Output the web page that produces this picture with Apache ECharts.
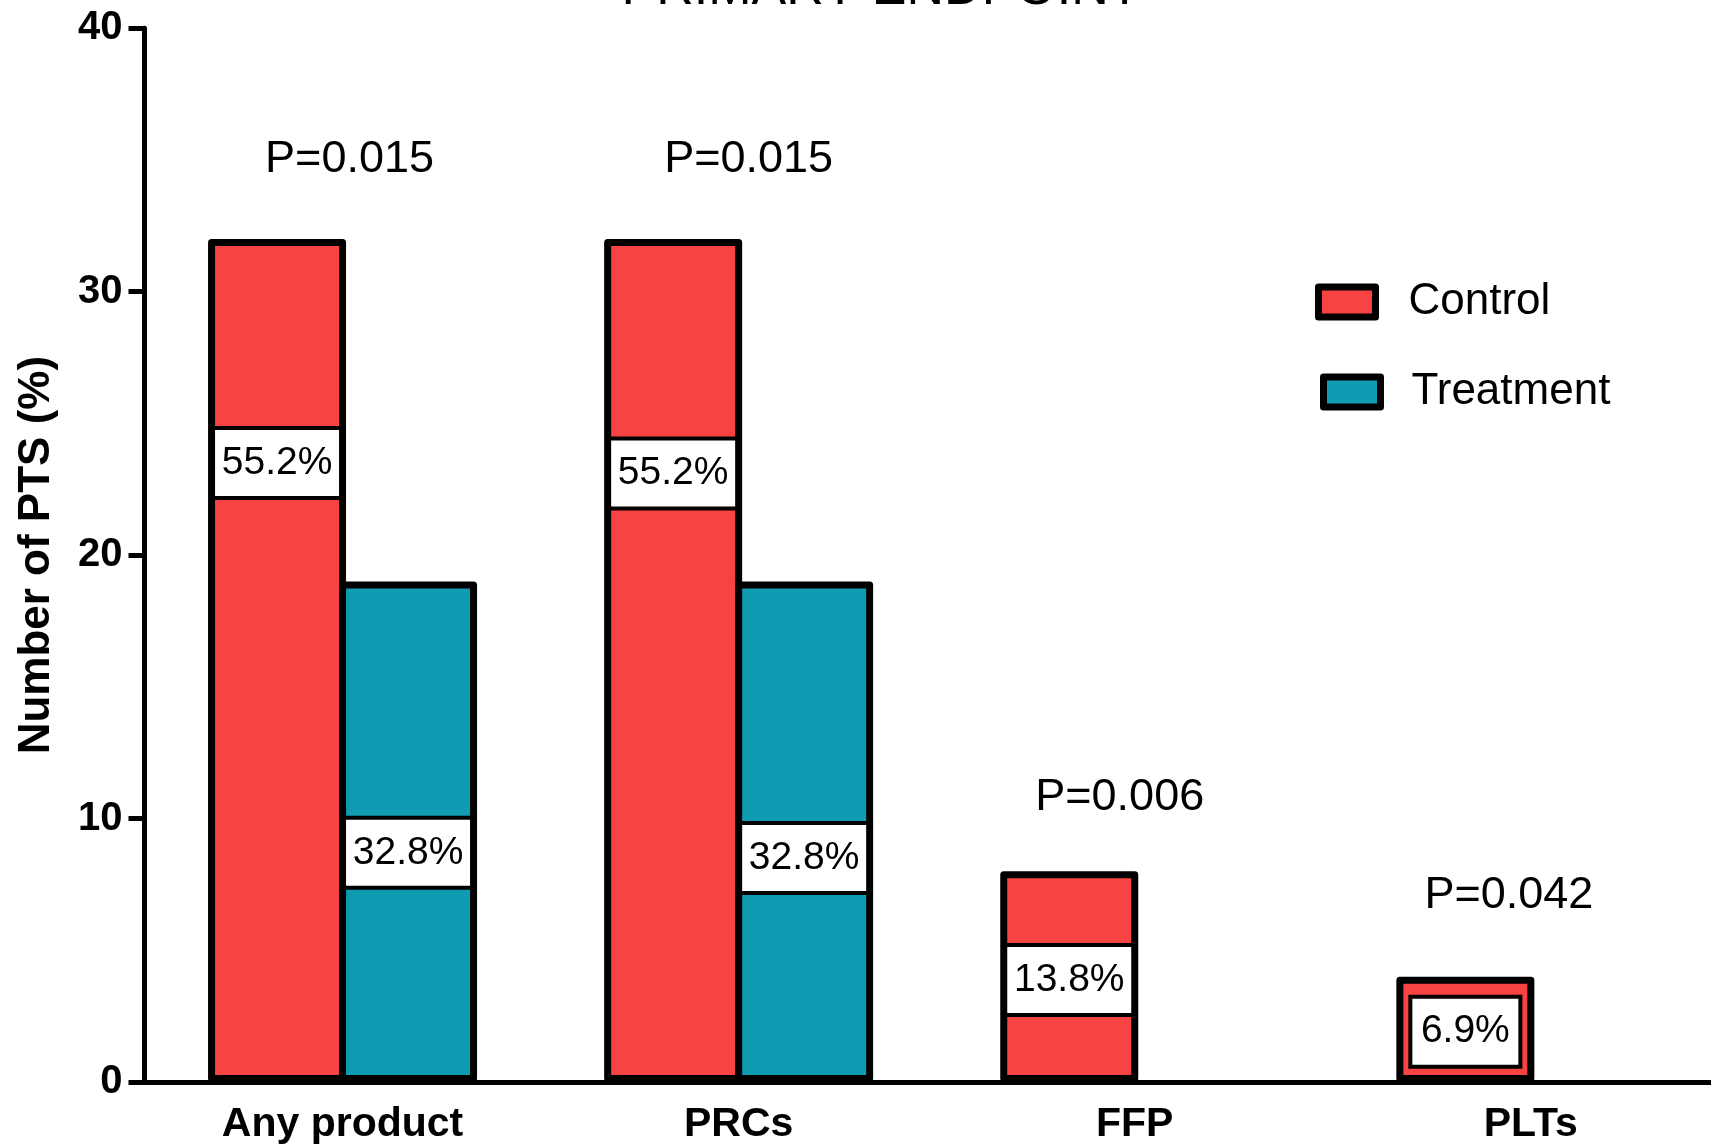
<!DOCTYPE html>
<html>
<head>
<meta charset="utf-8">
<title>Primary endpoint</title>
<script src="https://cdn.jsdelivr.net/npm/echarts@6/dist/echarts.min.js"></script>
<style>
  html, body { margin: 0; padding: 0; background: #fff; }
  #chart { width: 1711px; height: 1148px; }
</style>
</head>
<body>
<div id="chart"></div>
<script>
// Transfused patients per blood product, by arm
const categories = ['Any product', 'PRCs', 'FFP', 'PLTs'];
const controlCounts = [32, 32, 8, 4];
const treatmentCounts = [19, 19, 0, 0];
const controlPct = ['55.2', '55.2', '13.8', '6.9'];
const treatmentPct = ['32.8', '32.8', null, null];
const pValues = ['0.015', '0.015', '0.006', '0.042'];
const yTicks = { min: 0, max: 40, interval: 10 };

// Layout: where the percentage boxes and p-values sit (axis units / pixels)
const controlBoxAt = [23.5, 23.1, 3.87, 1.91];
const treatmentBoxAt = [8.7, 8.5, null, null];
const controlBoxWidth = [124, 124, 124, 106];
const pValueAt = [35.02, 35.02, 10.78, 7.08];
const pValueDx = [7, 10, -15, -22];

const FONT = "'Liberation Sans', Arial, Helvetica, sans-serif";
const RED = '#F84343';
const TEAL = '#119BB2';
const BORDER = 7;
const BAR_W = 138;

function boxLabel(text, value, at, width) {
  const fromTop = (1 - at / value) * 100;
  return {
    show: true,
    position: ['50%', fromTop + '%'],
    align: 'center',
    verticalAlign: 'middle',
    formatter: text + '%',
    fontFamily: FONT,
    fontSize: 39,
    color: '#000',
    backgroundColor: '#fff',
    borderColor: '#000',
    borderWidth: 4,
    width: width,
    height: 66,
    lineHeight: 66,
    padding: 0
  };
}

const controlData = controlCounts.map((v, i) => ({
  value: v,
  label: controlPct[i] ? boxLabel(controlPct[i], v, controlBoxAt[i], controlBoxWidth[i]) : { show: false }
}));
const treatmentData = treatmentCounts.map((v, i) => ({
  value: v === 0 ? null : v,
  label: treatmentPct[i] ? boxLabel(treatmentPct[i], v, treatmentBoxAt[i], 124) : { show: false }
}));

const chart = echarts.init(document.getElementById('chart'), null, { renderer: 'canvas' });

const legendCommon = {
  orient: 'vertical',
  padding: 0,
  itemWidth: 57,
  itemHeight: 30,
  icon: 'rect',
  selectedMode: false,
  textStyle: { fontFamily: FONT, fontSize: 44, color: '#000' }
};

chart.setOption({
  animation: false,
  backgroundColor: '#fff',
  textStyle: { fontFamily: FONT },
  graphic: [{
    type: 'text',
    x: 881,
    y: -10,
    style: {
      text: 'PRIMARY ENDPOINT',
      fontFamily: FONT,
      fontSize: 52,
      fill: '#000',
      align: 'center',
      verticalAlign: 'middle'
    }
  }],
  legend: [
    Object.assign({}, legendCommon, {
      left: 1315,
      top: 280,
      data: ['Control'],
      itemStyle: { borderColor: '#000', borderWidth: BORDER, borderJoin: 'round' },
      textStyle: Object.assign({}, legendCommon.textStyle, { padding: [0, 0, 0, 28] })
    }),
    Object.assign({}, legendCommon, {
      left: 1320,
      top: 370,
      data: ['Treatment'],
      itemStyle: { borderColor: '#000', borderWidth: BORDER, borderJoin: 'round' },
      textStyle: Object.assign({}, legendCommon.textStyle, { padding: [0, 0, 0, 26] })
    })
  ],
  grid: {
    left: 144.5,
    top: 28.3,
    width: 1584.4,
    height: 1053.7,
    containLabel: false,
    outerBoundsMode: 'none'
  },
  xAxis: {
    type: 'category',
    data: categories,
    axisLine: { lineStyle: { color: '#000', width: 5 } },
    axisTick: { alignWithLabel: true, length: 16, lineStyle: { color: '#000', width: 5 } },
    axisLabel: { fontFamily: FONT, fontSize: 41, fontWeight: 'bold', color: '#000', margin: 22 },
    splitLine: { show: false }
  },
  yAxis: {
    type: 'value',
    min: yTicks.min,
    max: yTicks.max,
    interval: yTicks.interval,
    name: 'Number of PTS (%)',
    nameLocation: 'middle',
    nameGap: 86,
    nameTextStyle: { fontFamily: FONT, fontSize: 44, fontWeight: 'bold', color: '#000' },
    axisLine: { show: true, lineStyle: { color: '#000', width: 5 } },
    axisTick: { show: true, length: 16, lineStyle: { color: '#000', width: 5 } },
    axisLabel: { fontFamily: FONT, fontSize: 40, fontWeight: 'bold', color: '#000', margin: 22 },
    splitLine: { show: false }
  },
  series: [
    {
      name: 'Control',
      type: 'bar',
      barWidth: BAR_W,
      barGap: (-BORDER / BAR_W * 100) + '%',
      data: controlData,
      itemStyle: { color: RED, borderColor: '#000', borderWidth: BORDER, borderJoin: 'round' }
    },
    {
      name: 'Treatment',
      type: 'bar',
      barWidth: BAR_W,
      barGap: (-BORDER / BAR_W * 100) + '%',
      data: treatmentData,
      itemStyle: { color: TEAL, borderColor: '#000', borderWidth: BORDER, borderJoin: 'round' }
    },
    {
      // p-value annotations above each product group
      name: 'p',
      type: 'scatter',
      silent: true,
      data: [],
      markPoint: {
        symbol: 'rect',
        symbolSize: 1,
        itemStyle: { color: 'rgba(0,0,0,0)' },
        label: {
          show: true,
          position: 'inside',
          formatter: '{b}',
          fontFamily: FONT,
          fontSize: 45,
          color: '#000'
        },
        data: pValues.map((p, i) => ({
          name: 'P=' + p,
          coord: [categories[i], pValueAt[i]],
          label: { offset: [pValueDx[i], 0] }
        }))
      }
    }
  ]
});
</script>
</body>
</html>
